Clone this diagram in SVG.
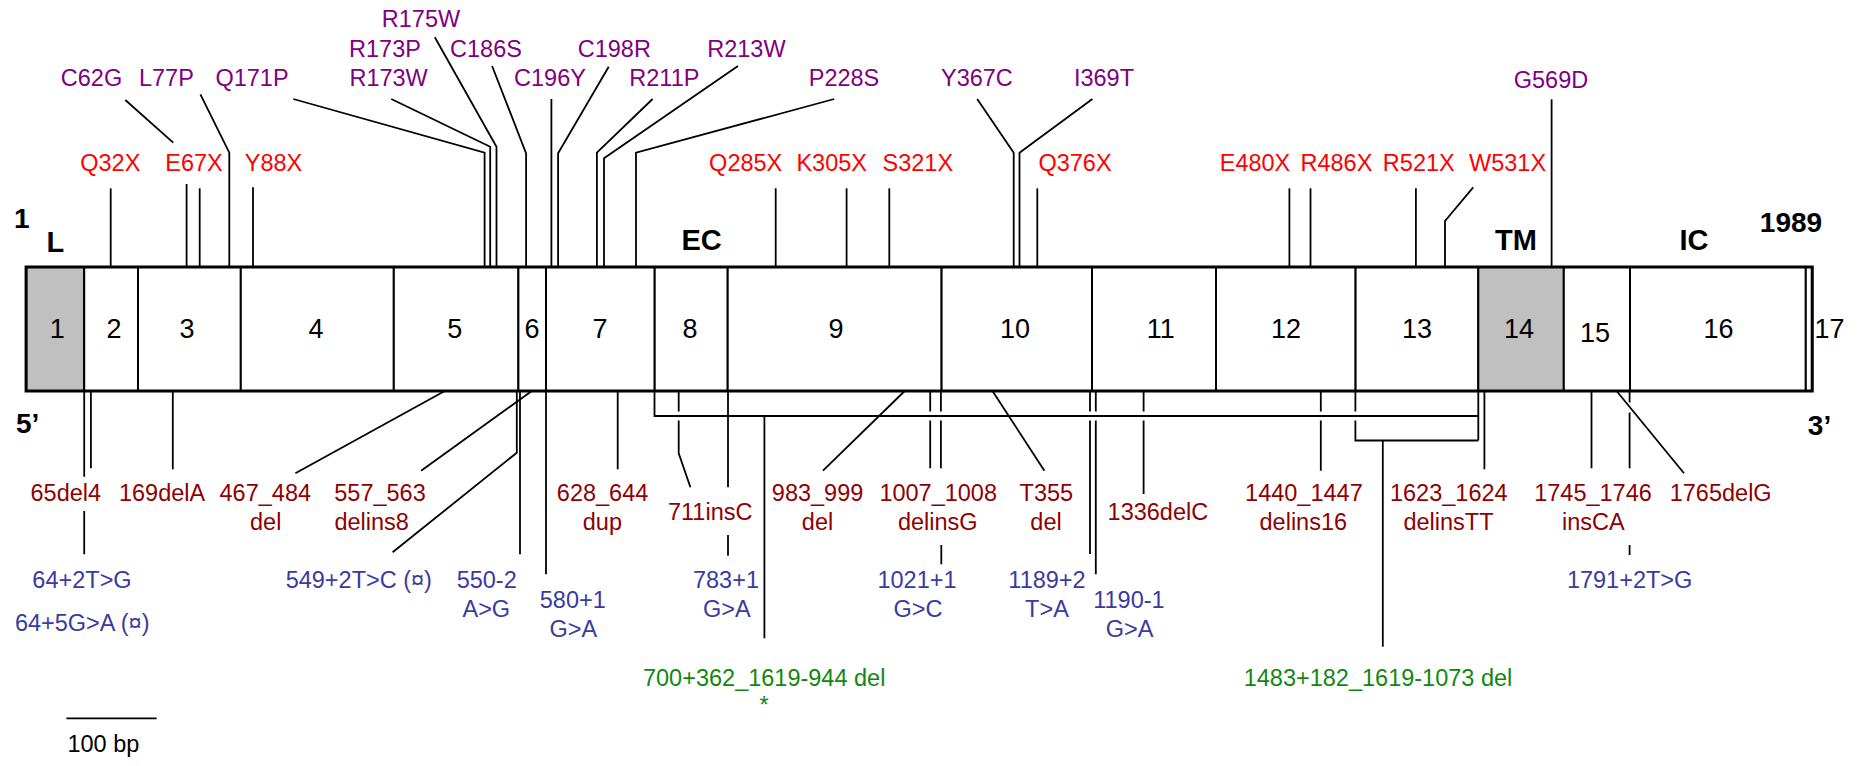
<svg xmlns="http://www.w3.org/2000/svg" width="1861" height="766" viewBox="0 0 1861 766">
<style>
text{font-family:"Liberation Sans",Arial,sans-serif;}
.ex rect{fill:#fff;stroke:#000;stroke-width:2;}
.ex rect.g{fill:#c0c0c0;}
.ex text{font-size:27px;text-anchor:middle;fill:#000;}
.bd{font-size:29px;font-weight:bold;fill:#000;text-anchor:middle;}
.lb{font-size:23.5px;text-anchor:middle;}
.mis{fill:#800080;}
.non{fill:#ff0000;}
.fs{fill:#900000;}
.sp{fill:#3a3aa0;}
.lg{fill:#108810;}
.ln path{fill:none;stroke:#000;stroke-width:1.8;}
</style>
<rect width="1861" height="766" fill="#fff"/>

<g id="exons">
<g id="exon1" class="ex"><rect class="g" x="26.1" y="267" width="58.1" height="124"/><text x="57.3" y="338.3">1</text></g>
<g id="exon2" class="ex"><rect x="84.2" y="267" width="53.8" height="124"/><text x="113.9" y="338.3">2</text></g>
<g id="exon3" class="ex"><rect x="138" y="267" width="102.8" height="124"/><text x="187" y="338.3">3</text></g>
<g id="exon4" class="ex"><rect x="240.8" y="267" width="153" height="124"/><text x="316" y="338.3">4</text></g>
<g id="exon5" class="ex"><rect x="393.8" y="267" width="124.6" height="124"/><text x="454.7" y="338.3">5</text></g>
<g id="exon6" class="ex"><rect x="518.4" y="267" width="27.6" height="124"/><text x="532" y="338.3">6</text></g>
<g id="exon7" class="ex"><rect x="546" y="267" width="108.7" height="124"/><text x="600" y="338.3">7</text></g>
<g id="exon8" class="ex"><rect x="654.7" y="267" width="73" height="124"/><text x="690" y="338.3">8</text></g>
<g id="exon9" class="ex"><rect x="727.7" y="267" width="213.9" height="124"/><text x="836" y="338.3">9</text></g>
<g id="exon10" class="ex"><rect x="941.6" y="267" width="150.4" height="124"/><text x="1015" y="338.3">10</text></g>
<g id="exon11" class="ex"><rect x="1092" y="267" width="124" height="124"/><text x="1160.8" y="338.3">11</text></g>
<g id="exon12" class="ex"><rect x="1216" y="267" width="139.6" height="124"/><text x="1286" y="338.3">12</text></g>
<g id="exon13" class="ex"><rect x="1355.6" y="267" width="122.7" height="124"/><text x="1417" y="338.3">13</text></g>
<g id="exon14" class="ex"><rect class="g" x="1478.3" y="267" width="85.5" height="124"/><text x="1519" y="338.3">14</text></g>
<g id="exon15" class="ex"><rect x="1563.8" y="267" width="66.2" height="124"/><text x="1595" y="341.7">15</text></g>
<g id="exon16" class="ex"><rect x="1630" y="267" width="175.8" height="124"/><text x="1718.6" y="338.3">16</text></g>
<g id="exon17" class="ex"><rect x="1805.8" y="267" width="6.4" height="124"/><text x="1829.5" y="338.3">17</text></g>
<rect x="26.1" y="267" width="1786.1" height="124" fill="none" stroke="#000" stroke-width="3"/>
</g>

<g id="domains">
<text class="bd" x="21.7" y="228.3" style="font-size:28px">1</text>
<text class="bd" x="55.3" y="251.7">L</text>
<text class="bd" x="701.6" y="250">EC</text>
<text class="bd" x="1516" y="250">TM</text>
<text class="bd" x="1694" y="250">IC</text>
<text class="bd" x="1791" y="231.7" style="font-size:28px">1989</text>
<text class="bd" x="27.6" y="433.3" style="font-size:28px">5’</text>
<text class="bd" x="1819.5" y="435" style="font-size:28px">3’</text>
</g>

<g id="connectors" class="ln">
<path d="M110.7,188.3V267"/>
<path d="M125.3,100L173.2,142.7"/>
<path d="M186.6,184V267"/>
<path d="M199.7,188.3V267"/>
<path d="M200.4,94.3L229.3,152.7V267"/>
<path d="M253,187.3V267"/>
<path d="M293.3,99L484.6,152.7V267"/>
<path d="M391.3,99L490.2,146.7V267"/>
<path d="M434.8,37.3L496.5,146.7V267"/>
<path d="M492.1,66L526.1,153.3V267"/>
<path d="M551.4,99V267"/>
<path d="M608.7,66.7L558.1,153.3V267"/>
<path d="M652.6,99L596.9,152.7V267"/>
<path d="M738,66L604,158.3V267"/>
<path d="M834.2,99L636,152.7V267"/>
<path d="M775.7,188.3V267"/>
<path d="M846.6,188.3V267"/>
<path d="M889.3,188.3V267"/>
<path d="M977.2,99L1013.7,152.7V267"/>
<path d="M1092.4,99L1019.5,152.7V267"/>
<path d="M1037.3,188.3V267"/>
<path d="M1289.4,188.3V267"/>
<path d="M1310.5,188.3V267"/>
<path d="M1415.9,188.3V267"/>
<path d="M1473.2,187.3L1445,221V267"/>
<path d="M1551.6,99.3V267"/>

<path d="M84.2,391V476.7M84.2,511V554.3"/>
<path d="M90.9,391V468.3"/>
<path d="M172.8,391V469.3"/>
<path d="M444.8,391L295.4,473.3"/>
<path d="M531.8,391L421.1,470.7"/>
<path d="M516.8,391V452.7L392.6,552.3"/>
<path d="M520,391V554.3"/>
<path d="M546,391V574.3"/>
<path d="M617.7,391V469.3"/>
<path d="M654.5,391V416H1478.3"/>
<path d="M1478.3,391V440.5"/>
<path d="M764.4,416V638.3"/>
<path d="M678.7,391V411.5M678.7,420.5V453.3L690.4,487.3"/>
<path d="M728,391V487.3M728,535V555.7"/>
<path d="M904.7,391L823,470.7"/>
<path d="M930.2,391V411.5M930.2,420.5V468.3"/>
<path d="M940.9,391V411.5M940.9,420.5V468.3"/>
<path d="M941.3,545V564.3"/>
<path d="M992.5,391L1044.4,470.7"/>
<path d="M1090,391V411.5M1090,420.5V554"/>
<path d="M1095.8,391V411.5M1095.8,420.5V574.3"/>
<path d="M1143.6,391V411.5M1143.6,420.5V494"/>
<path d="M1320.8,391V411.5M1320.8,420.5V470.7"/>
<path d="M1355.4,391V411.5M1355.4,420.5V440.5H1478.3"/>
<path d="M1382.8,440.5V646.7"/>
<path d="M1484.4,391V469.3"/>
<path d="M1591.5,391V468.3"/>
<path d="M1629.6,391V402.5M1629.6,412.5V468.3M1629.6,545V555"/>
<path d="M1616.6,391L1684,473.3"/>
<path d="M66.4,718.3H156.6"/>
</g>

<g id="missense" class="lb mis">
<text x="91.5" y="86">C62G</text>
<text x="166.4" y="86">L77P</text>
<text x="252" y="86">Q171P</text>
<text x="388.6" y="86">R173W</text>
<text x="385" y="57.3">R173P</text>
<text x="421" y="27.3">R175W</text>
<text x="486" y="57.3">C186S</text>
<text x="550" y="86">C196Y</text>
<text x="614.3" y="57.3">C198R</text>
<text x="664.4" y="86">R211P</text>
<text x="746.4" y="57.3">R213W</text>
<text x="844" y="86">P228S</text>
<text x="976.9" y="86">Y367C</text>
<text x="1104" y="86">I369T</text>
<text x="1551" y="88">G569D</text>
</g>

<g id="nonsense" class="lb non">
<text x="110.3" y="170.7">Q32X</text>
<text x="194" y="170.7">E67X</text>
<text x="273.5" y="170.7">Y88X</text>
<text x="745.7" y="170.7">Q285X</text>
<text x="831.7" y="170.7">K305X</text>
<text x="917.8" y="170.7">S321X</text>
<text x="1075" y="170.7">Q376X</text>
<text x="1255" y="170.7">E480X</text>
<text x="1336.4" y="170.7">R486X</text>
<text x="1418.8" y="170.7">R521X</text>
<text x="1507.6" y="170.7">W531X</text>
</g>

<g id="frameshift" class="lb fs">
<text x="65.8" y="501">65del4</text>
<text x="162.1" y="501">169delA</text>
<text x="265.3" y="501">467_484</text>
<text x="265.7" y="530">del</text>
<text x="380" y="501">557_563</text>
<text x="371.7" y="530">delins8</text>
<text x="602.6" y="501">628_644</text>
<text x="602.4" y="530">dup</text>
<text x="710.2" y="520">711insC</text>
<text x="817.6" y="501">983_999</text>
<text x="817.5" y="530">del</text>
<text x="938.2" y="501">1007_1008</text>
<text x="937.8" y="530">delinsG</text>
<text x="1046.4" y="501">T355</text>
<text x="1046" y="530">del</text>
<text x="1157.9" y="520">1336delC</text>
<text x="1303.9" y="501">1440_1447</text>
<text x="1303.3" y="530">delins16</text>
<text x="1448.8" y="501">1623_1624</text>
<text x="1448.5" y="530">delinsTT</text>
<text x="1593" y="501">1745_1746</text>
<text x="1593.4" y="530">insCA</text>
<text x="1720.7" y="501">1765delG</text>
</g>

<g id="splice" class="lb sp">
<text x="82" y="588">64+2T&gt;G</text>
<text x="82.2" y="631">64+5G&gt;A (¤)</text>
<text x="358.8" y="588">549+2T&gt;C (¤)</text>
<text x="486.7" y="588">550-2</text>
<text x="486.3" y="616.7">A&gt;G</text>
<text x="572.8" y="608.3">580+1</text>
<text x="573.3" y="636.7">G&gt;A</text>
<text x="726" y="588">783+1</text>
<text x="726.9" y="616.7">G&gt;A</text>
<text x="917" y="588">1021+1</text>
<text x="918" y="616.7">G&gt;C</text>
<text x="1047" y="588">1189+2</text>
<text x="1047" y="616.7">T&gt;A</text>
<text x="1128.9" y="608.3">1190-1</text>
<text x="1129.5" y="636.7">G&gt;A</text>
<text x="1629.6" y="588">1791+2T&gt;G</text>
</g>

<g id="large-deletions" class="lb lg">
<text x="764.2" y="686">700+362_1619-944 del</text>
<text x="764.2" y="713">*</text>
<text x="1378" y="686">1483+182_1619-1073 del</text>
</g>

<g id="scale">
<text class="lb" x="103.4" y="752" fill="#000">100 bp</text>
</g>
</svg>
